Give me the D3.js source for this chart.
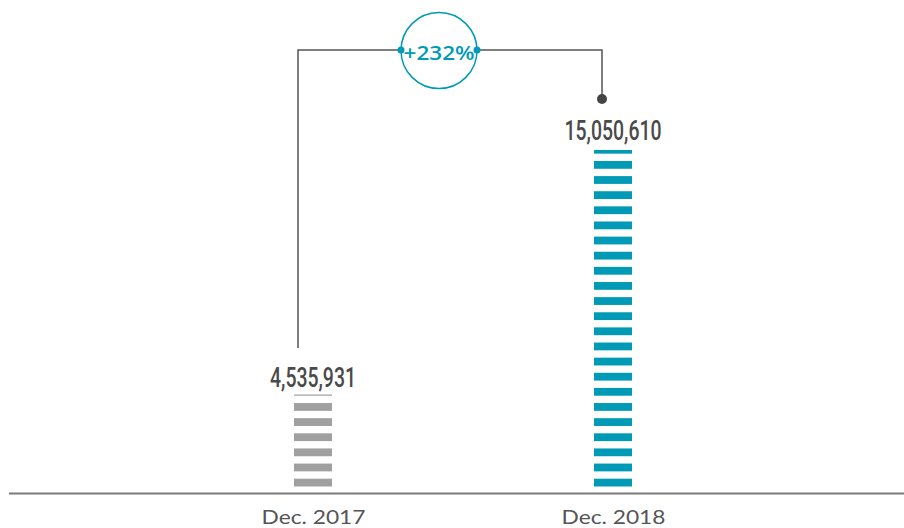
<!DOCTYPE html>
<html>
<head>
<meta charset="utf-8">
<script src="https://cdn.jsdelivr.net/npm/d3@7"></script>
<style>
  html, body { margin: 0; padding: 0; background: #ffffff; }
  svg { display: block; }
</style>
</head>
<body>
<svg id="chart" width="904" height="528"></svg>
<script>
// Subscriber totals at two points in time
const categories = ["Dec. 2017", "Dec. 2018"];
const values = [4535931, 15050610];
const valueLabels = ["4,535,931", "15,050,610"];
const barColors = ["#a0a0a0", "#009ab6"];
const changeLabel = "+232%";

const W = 904, H = 528;
const baseline = 493.5;
const svg = d3.select("#chart");

// Horizontal placement of the two striped columns
const x = d3.scalePoint().domain(categories).range([313, 613]);
const barW = 38;

// Value scale (zero sits slightly below the axis line)
const y = d3.scaleLinear().domain([0, d3.max(values)]).range([500, 150]);

// Striped columns: bands stacked from the baseline up to each value
const period = 15.13, stripeH = 7.8, bottomGap = 7.0;
categories.forEach((c, i) => {
  const top = y(values[i]);
  const stripes = [];
  for (let k = 0; ; k++) {
    const b = baseline - bottomGap - k * period;
    if (b <= top) break;
    const t = Math.max(b - stripeH, top);
    stripes.push({ t, h: b - t });
  }
  svg.append("g")
    .selectAll("rect")
    .data(stripes)
    .join("rect")
    .attr("x", x(c) - barW / 2)
    .attr("width", barW)
    .attr("y", d => d.t)
    .attr("height", d => d.h)
    .attr("fill", barColors[i]);

  // Value label above each column
  svg.append("text")
    .attr("x", x(c))
    .attr("y", top - (i === 0 ? 8 : 10.5))
    .attr("text-anchor", "middle")
    .attr("font-family", "Roboto, 'Liberation Sans', sans-serif")
    .attr("font-weight", 500)
    .attr("font-size", 27.5)
    .attr("fill", "#4a4a4a")
    .attr("textLength", i === 0 ? 86 : 97)
    .attr("lengthAdjust", "spacingAndGlyphs")
    .text(valueLabels[i]);
});

// Baseline
svg.append("line")
  .attr("x1", 9).attr("x2", W)
  .attr("y1", baseline).attr("y2", baseline)
  .attr("stroke", "#7a7a7a")
  .attr("stroke-width", 2);

// Category labels
const axis = d3.axisBottom(x).tickSize(0);
const gAxis = svg.append("g")
  .attr("transform", `translate(0,${baseline})`)
  .call(axis);
gAxis.select(".domain").remove();
gAxis.selectAll("text")
  .attr("dy", null)
  .attr("y", 30.5)
  .attr("font-family", "Lato, 'Open Sans', sans-serif")
  .attr("font-weight", 400)
  .attr("font-size", 19.5)
  .attr("fill", "#555555")
  .attr("textLength", 104)
  .attr("lengthAdjust", "spacingAndGlyphs");

// Change connector between the two columns
const lineY = 50;
const leftX = x(categories[0]) - 15;
const rightX = x(categories[1]) - 11;
const cx = 439, r = 38;
const connector = svg.append("g")
  .attr("fill", "none")
  .attr("stroke", "#555555")
  .attr("stroke-width", 1.5);
connector.append("path")
  .attr("d", `M${leftX},348 V${lineY} H${cx - r}`);
connector.append("path")
  .attr("d", `M${cx + r},${lineY} H${rightX} V99`);

svg.append("circle")
  .attr("cx", rightX).attr("cy", 99).attr("r", 5)
  .attr("fill", "#444444");

// Percentage change badge
svg.append("circle")
  .attr("cx", cx).attr("cy", lineY + 0.5).attr("r", r)
  .attr("fill", "none")
  .attr("stroke", "#009ab6")
  .attr("stroke-width", 1.5);
[cx - r, cx + r].forEach(px => {
  svg.append("circle")
    .attr("cx", px).attr("cy", lineY).attr("r", 3.5)
    .attr("fill", "#009ab6");
});
svg.append("text")
  .attr("x", cx)
  .attr("y", 59.5)
  .attr("text-anchor", "middle")
  .attr("font-family", "'Open Sans', Lato, sans-serif")
  .attr("font-weight", 600)
  .attr("font-size", 19)
  .attr("fill", "#009ab6")
  .attr("textLength", 71)
  .attr("lengthAdjust", "spacingAndGlyphs")
  .text(changeLabel);
</script>
</body>
</html>
